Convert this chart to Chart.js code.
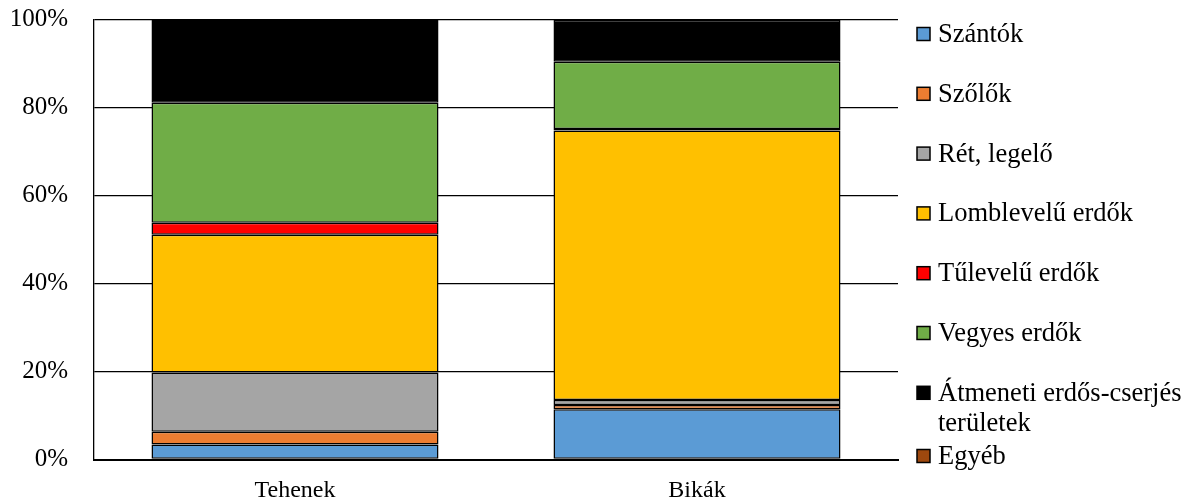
<!DOCTYPE html>
<html>
<head>
<meta charset="utf-8">
<style>
  html, body { margin: 0; padding: 0; background: #fff; }
  #wrap { width: 1192px; height: 501px; position: relative; }
</style>
<script src="https://cdn.jsdelivr.net/npm/chart.js@4.4.1/dist/chart.umd.min.js"></script>
</head>
<body>
<div id="wrap"><canvas id="c" width="1192" height="501"></canvas></div>
<script>
// Categories and land-cover shares (%), stacked to 100%
const categories = ['Tehenek', 'Bikák'];
const seriesNames = ['Szántók', 'Szőlők', 'Rét, legelő', 'Lomblevelű erdők', 'Tűlevelű erdők', 'Vegyes erdők', 'Átmeneti erdős-cserjés területek', 'Egyéb'];
const szantok     = [3.4, 11.4];
const szolok      = [2.9, 1.0];
const ret         = [13.5, 1.1];
const lomblevelu  = [31.3, 61.3];
const tulevelu    = [2.7, 0.3];
const vegyes      = [27.3, 15.3];
const atmeneti    = [18.9, 9.5];
const egyeb       = [0.0, 0.1];
const yTicks = [0, 20, 40, 60, 80, 100];

const seriesValues = [szantok, szolok, ret, lomblevelu, tulevelu, vegyes, atmeneti, egyeb];
const seriesColors = ['#5B9BD5', '#ED7D31', '#A5A5A5', '#FFC000', '#FF0000', '#70AD47', '#000000', '#9E480E'];

const FONT = '"Liberation Serif", "Times New Roman", serif';

// Legend on the right: square swatch + (possibly wrapped) label
const sideLegend = {
  id: 'sideLegend',
  afterDraw(chart) {
    const ctx = chart.ctx;
    const area = chart.chartArea;
    const boxX = area.right + 19;
    const textX = boxX + 21;
    const maxW = chart.width - textX - 2;
    const step = 59.8;
    const lineH = 30;
    let y = area.top + 14.5;
    ctx.save();
    ctx.font = '26.5px ' + FONT;
    ctx.fillStyle = '#000';
    ctx.textBaseline = 'middle';
    ctx.textAlign = 'left';
    chart.data.datasets.forEach((ds, i) => {
      // wrap words to the available width
      const words = ds.label.split(' ');
      const lines = [];
      let cur = '';
      words.forEach(w => {
        const t = cur ? cur + ' ' + w : w;
        if (cur && ctx.measureText(t).width > maxW) { lines.push(cur); cur = w; }
        else cur = t;
      });
      lines.push(cur);
      ctx.fillStyle = ds.backgroundColor;
      ctx.fillRect(boxX, y - 6.5, 13, 13);
      ctx.lineWidth = 1.5;
      ctx.strokeStyle = '#000';
      ctx.strokeRect(boxX, y - 6.5, 13, 13);
      ctx.fillStyle = '#000';
      lines.forEach((ln, k) => ctx.fillText(ln, textX, y + 1 + k * lineH));
      y += step + (lines.length - 1) * 3.4;
    });
    ctx.restore();
  }
};

new Chart(document.getElementById('c'), {
  type: 'bar',
  data: {
    labels: categories,
    datasets: seriesNames.map((name, i) => ({
      label: name,
      data: seriesValues[i],
      backgroundColor: seriesColors[i],
      borderColor: '#000',
      borderWidth: 1.5,
      borderSkipped: false,
      categoryPercentage: 1.0,
      barPercentage: 0.714
    }))
  },
  options: {
    responsive: false,
    animation: false,
    devicePixelRatio: 1,
    layout: { padding: { top: 0, right: 294, left: 0, bottom: 0 } },
    plugins: { legend: { display: false }, tooltip: { enabled: false } },
    scales: {
      x: {
        stacked: true,
        grid: { display: false, drawTicks: false },
        border: { display: true, color: '#000', width: 2 },
        ticks: { color: '#000', font: { family: FONT, size: 24 }, padding: 17 },
        afterFit(scale) { scale.height = 41.5; }
      },
      y: {
        stacked: true,
        min: 0,
        max: 100,
        afterBuildTicks(scale) { scale.ticks = yTicks.map(v => ({ value: v })); },
        grid: { color: '#000', lineWidth: 1.3, drawTicks: false },
        border: { display: true, color: '#000', width: 1.3 },
        ticks: {
          color: '#000',
          font: { family: FONT, size: 25 },
          padding: 26,
          callback: v => v + '%'
        },
        afterFit(scale) {
          scale.width = 94;
          scale.paddingTop = 19.5;
          scale.paddingBottom = 0;
        }
      }
    }
  },
  plugins: [sideLegend]
});
</script>
</body>
</html>
